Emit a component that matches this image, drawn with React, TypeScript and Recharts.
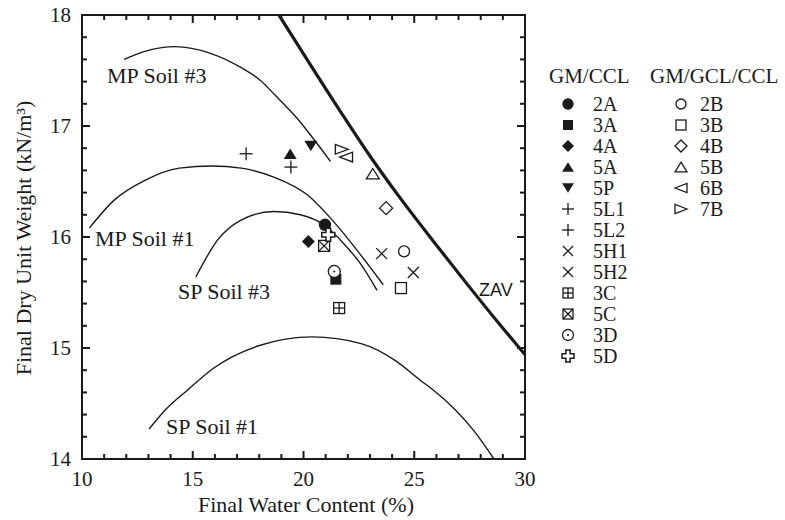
import React from "react";
import {
  ComposedChart,
  Line,
  Scatter,
  XAxis,
  YAxis,
  ReferenceArea,
  Customized,
} from "recharts";

const INK = "#1a1a1a";
const SERIF = '"Liberation Serif", "Times New Roman", serif';
const SANS = '"Liberation Sans", Arial, sans-serif';

const PLOT_W = 443;
const PLOT_H = 444;

// axis ticks (minor + major)
const xTicks = [10, 11, 12, 13, 14, 15, 16, 17, 18, 19, 20, 21, 22, 23, 24, 25, 26, 27, 28, 29, 30];
const yTicks = [14, 14.2, 14.4, 14.6, 14.8, 15, 15.2, 15.4, 15.6, 15.8, 16, 16.2, 16.4, 16.6, 16.8, 17, 17.2, 17.4, 17.6, 17.8, 18];

// compaction curves: water content (%) vs dry unit weight (kN/m3)
const mpSoil3W = [11.9, 12.8, 14.2, 15.8, 17.15, 18.06, 18.66, 19.71, 20.62, 21.22];
const mpSoil3G = [17.6, 17.67, 17.715, 17.655, 17.53, 17.41, 17.29, 17.07, 16.84, 16.68];
const mpSoil1W = [10.33, 11.44, 12.84, 14.39, 15.87, 17.19, 18.66, 20.17, 21.22, 22.42, 23.6];
const mpSoil1G = [16.08, 16.33, 16.51, 16.62, 16.64, 16.62, 16.54, 16.38, 16.17, 15.88, 15.57];
const spSoil3W = [15.14, 16.11, 17.16, 18.66, 19.86, 20.92, 21.82, 22.57, 23.32];
const spSoil3G = [15.64, 15.97, 16.15, 16.23, 16.2, 16.11, 15.94, 15.76, 15.52];
const spSoil1W = [13.03, 13.8, 14.76, 15.95, 17.97, 20.4, 22.6, 24.2, 25.27, 25.87, 26.77, 27.67, 28.6];
const spSoil1G = [14.27, 14.45, 14.62, 14.82, 15.02, 15.1, 15.04, 14.88, 14.71, 14.62, 14.46, 14.26, 14.0];
const zavW = [18.89, 20.0, 21.67, 23.0, 24.37, 25.87, 27.37, 28.87, 30.0];
const zavG = [18.0, 17.65, 17.13, 16.73, 16.35, 15.96, 15.58, 15.21, 14.94];

// final state of the specimens
const specimens = ["2A", "3A", "4A", "5A", "5P", "5L1", "5L2", "5H1", "5H2", "3C", "5C", "3D", "5D", "2B", "3B", "4B", "5B", "6B", "7B"];
const waterContent = [20.97, 21.46, 20.22, 19.4, 20.33, 17.41, 19.43, 23.53, 24.96, 21.61, 20.93, 21.39, 21.12, 24.54, 24.4, 23.73, 23.13, 21.92, 21.73];
const dryUnitWeight = [16.11, 15.62, 15.96, 16.75, 16.82, 16.75, 16.63, 15.85, 15.68, 15.36, 15.92, 15.69, 16.02, 15.87, 15.54, 16.26, 16.57, 16.72, 16.79];

const gmCcl = ["2A", "3A", "4A", "5A", "5P", "5L1", "5L2", "5H1", "5H2", "3C", "5C", "3D", "5D"];
const gmGclCcl = ["2B", "3B", "4B", "5B", "6B", "7B"];

const markerOf: Record<string, string> = {
  "2A": "circleFilled", "3A": "squareFilled", "4A": "diamondFilled", "5A": "triUpFilled",
  "5P": "triDownFilled", "5L1": "plus", "5L2": "plus", "5H1": "cross", "5H2": "cross",
  "3C": "squarePlus", "5C": "squareX", "3D": "circleDot", "5D": "openCross",
  "2B": "circleOpen", "3B": "squareOpen", "4B": "diamondOpen", "5B": "triUpOpen",
  "6B": "triLeftOpen", "7B": "triRightOpen",
};

const pts = (w: number[], g: number[]) => w.map((v, i) => ({ w: v, g: g[i] }));

function Marker({ kind, cx, cy, s = 13 }: { kind: string; cx: number; cy: number; s?: number }) {
  const h = s / 2;
  const sw = 1.3;
  const open = { fill: "#fff", stroke: INK, strokeWidth: sw };
  const filled = { fill: INK, stroke: "none" };
  const q = h - 1;
  switch (kind) {
    case "circleFilled":
      return <circle cx={cx} cy={cy} r={h - 0.3} {...filled} />;
    case "circleOpen":
      return <circle cx={cx} cy={cy} r={h - 1} {...open} />;
    case "circleDot":
      return (
        <g>
          <circle cx={cx} cy={cy} r={h - 0.5} {...open} />
          <circle cx={cx} cy={cy} r={1} fill={INK} />
        </g>
      );
    case "squareFilled":
      return <rect x={cx - q} y={cy - q} width={2 * q} height={2 * q} {...filled} />;
    case "squareOpen":
      return <rect x={cx - q} y={cy - q} width={2 * q} height={2 * q} {...open} />;
    case "squarePlus":
      return (
        <g>
          <rect x={cx - q} y={cy - q} width={2 * q} height={2 * q} {...open} />
          <line x1={cx} y1={cy - q} x2={cx} y2={cy + q} stroke={INK} strokeWidth={sw} />
          <line x1={cx - q} y1={cy} x2={cx + q} y2={cy} stroke={INK} strokeWidth={sw} />
        </g>
      );
    case "squareX":
      return (
        <g>
          <rect x={cx - q} y={cy - q} width={2 * q} height={2 * q} {...open} />
          <line x1={cx - q} y1={cy - q} x2={cx + q} y2={cy + q} stroke={INK} strokeWidth={sw} />
          <line x1={cx - q} y1={cy + q} x2={cx + q} y2={cy - q} stroke={INK} strokeWidth={sw} />
        </g>
      );
    case "diamondFilled":
    case "diamondOpen": {
      const p = `${cx},${cy - h} ${cx + h},${cy} ${cx},${cy + h} ${cx - h},${cy}`;
      return <polygon points={p} {...(kind === "diamondFilled" ? filled : open)} />;
    }
    case "triUpFilled":
    case "triUpOpen": {
      const p = `${cx},${cy - h * 0.8} ${cx + h},${cy + h * 0.8} ${cx - h},${cy + h * 0.8}`;
      return <polygon points={p} {...(kind === "triUpFilled" ? filled : open)} />;
    }
    case "triDownFilled": {
      const p = `${cx - h},${cy - h * 0.8} ${cx + h},${cy - h * 0.8} ${cx},${cy + h * 0.8}`;
      return <polygon points={p} {...filled} />;
    }
    case "triLeftOpen": {
      const p = `${cx - h},${cy} ${cx + h},${cy - h * 0.75} ${cx + h},${cy + h * 0.75}`;
      return <polygon points={p} {...open} />;
    }
    case "triRightOpen": {
      const p = `${cx + h},${cy} ${cx - h},${cy - h * 0.75} ${cx - h},${cy + h * 0.75}`;
      return <polygon points={p} {...open} />;
    }
    case "plus":
      return (
        <g stroke={INK} strokeWidth={sw}>
          <line x1={cx - h} y1={cy} x2={cx + h} y2={cy} />
          <line x1={cx} y1={cy - h} x2={cx} y2={cy + h} />
        </g>
      );
    case "cross":
      return (
        <g stroke={INK} strokeWidth={sw}>
          <line x1={cx - q} y1={cy - q} x2={cx + q} y2={cy + q} />
          <line x1={cx - q} y1={cy + q} x2={cx + q} y2={cy - q} />
        </g>
      );
    case "openCross": {
      const a = h * 0.36;
      const b = h;
      const d = `M${cx - a},${cy - b} H${cx + a} V${cy - a} H${cx + b} V${cy + a} H${cx + a} V${cy + b} H${cx - a} V${cy + a} H${cx - b} V${cy - a} H${cx - a} Z`;
      return <path d={d} {...open} strokeWidth={1.5} />;
    }
    default:
      return null;
  }
}

const XTick = (props: any) => {
  const { x, y, payload } = props;
  const v = payload.value;
  const major = v % 5 === 0;
  const len = major ? 8 : 5;
  return (
    <g>
      <line x1={x} y1={y} x2={x} y2={y - len} stroke={INK} strokeWidth={2} />
      <line x1={x} y1={y - PLOT_H} x2={x} y2={y - PLOT_H + len} stroke={INK} strokeWidth={2} />
      {major && (
        <text x={x} y={y + 27} textAnchor="middle" fontFamily={SERIF} fontSize={21} fill={INK}>
          {v}
        </text>
      )}
    </g>
  );
};

const YTick = (props: any) => {
  const { x, y, payload } = props;
  const v = payload.value;
  const major = Math.abs(v - Math.round(v)) < 1e-6;
  const len = major ? 8 : 5;
  return (
    <g>
      <line x1={x} y1={y} x2={x + len} y2={y} stroke={INK} strokeWidth={2} />
      <line x1={x + PLOT_W} y1={y} x2={x + PLOT_W - len} y2={y} stroke={INK} strokeWidth={2} />
      {major && (
        <text x={x - 11} y={y + 7} textAnchor="end" fontFamily={SERIF} fontSize={21} fill={INK}>
          {Math.round(v)}
        </text>
      )}
    </g>
  );
};

const Annotations = () => {
  const t = { fontFamily: SERIF, fontSize: 22, fill: INK };
  const lg = { fontFamily: SERIF, fontSize: 20, fill: INK };
  const rowH = 21;
  const row0 = 111;
  return (
    <g>
      <text x={107} y={83} {...t}>MP Soil #3</text>
      <text x={95} y={246} {...t}>MP Soil #1</text>
      <text x={178} y={299} {...t}>SP Soil #3</text>
      <text x={166} y={434} {...t}>SP Soil #1</text>
      <text x={479} y={296} fontFamily={SANS} fontSize={18} fill={INK}>ZAV</text>

      <text x={306} y={512} textAnchor="middle" {...t}>Final Water Content (%)</text>
      <text x={31} y={238} textAnchor="middle" transform="rotate(-90 31 238)" {...t}>
        Final Dry Unit Weight (kN/m³)
      </text>

      <text x={549} y={83} {...lg} fontSize={21}>GM/CCL</text>
      <text x={650} y={83} {...lg} fontSize={21}>GM/GCL/CCL</text>
      {gmCcl.map((id, i) => (
        <g key={id}>
          <Marker kind={markerOf[id]} cx={568} cy={row0 + i * rowH - 7} s={12} />
          <text x={593} y={row0 + i * rowH} {...lg}>{id}</text>
        </g>
      ))}
      {gmGclCcl.map((id, i) => (
        <g key={id}>
          <Marker kind={markerOf[id]} cx={681} cy={row0 + i * rowH - 7} s={12} />
          <text x={700} y={row0 + i * rowH} {...lg}>{id}</text>
        </g>
      ))}
    </g>
  );
};

const curves = [
  { key: "mp3", data: pts(mpSoil3W, mpSoil3G), width: 1.4 },
  { key: "mp1", data: pts(mpSoil1W, mpSoil1G), width: 1.4 },
  { key: "sp3", data: pts(spSoil3W, spSoil3G), width: 1.4 },
  { key: "sp1", data: pts(spSoil1W, spSoil1G), width: 1.4 },
  { key: "zav", data: pts(zavW, zavG), width: 3.2 },
];

export default function App() {
  return (
    <div style={{ position: "absolute", left: 0, top: 0, width: 785, height: 520, background: "#fff" }}>
      <ComposedChart width={785} height={520} margin={{ top: 15, right: 260, bottom: 0, left: 0 }}>
        <XAxis
          xAxisId="x"
          dataKey="w"
          type="number"
          domain={[10, 30]}
          ticks={xTicks}
          interval={0}
          allowDataOverflow
          height={61}
          tickSize={0}
          tickMargin={0}
          tickLine={false}
          axisLine={{ stroke: INK, strokeWidth: 2 }}
          tick={<XTick />}
        />
        <YAxis
          yAxisId="y"
          dataKey="g"
          type="number"
          domain={[14, 18]}
          ticks={yTicks}
          interval={0}
          allowDataOverflow
          width={82}
          tickSize={0}
          tickMargin={0}
          tickLine={false}
          axisLine={{ stroke: INK, strokeWidth: 2 }}
          tick={<YTick />}
        />
        <ReferenceArea
          xAxisId="x"
          yAxisId="y"
          x1={10}
          x2={30}
          y1={14}
          y2={18}
          fill="none"
          fillOpacity={0}
          stroke={INK}
          strokeWidth={2}
        />
        {curves.map((c) => (
          <Line
            key={c.key}
            xAxisId="x"
            yAxisId="y"
            data={c.data}
            dataKey="g"
            type="monotone"
            dot={false}
            activeDot={false}
            stroke={INK}
            strokeWidth={c.width}
            isAnimationActive={false}
          />
        ))}
        {specimens.map((id, i) => (
          <Scatter
            key={id}
            xAxisId="x"
            yAxisId="y"
            data={[{ w: waterContent[i], g: dryUnitWeight[i] }]}
            isAnimationActive={false}
            shape={(p: any) => <Marker kind={markerOf[id]} cx={p.cx} cy={p.cy} />}
          />
        ))}
        <Customized component={Annotations} />
      </ComposedChart>
    </div>
  );
}
